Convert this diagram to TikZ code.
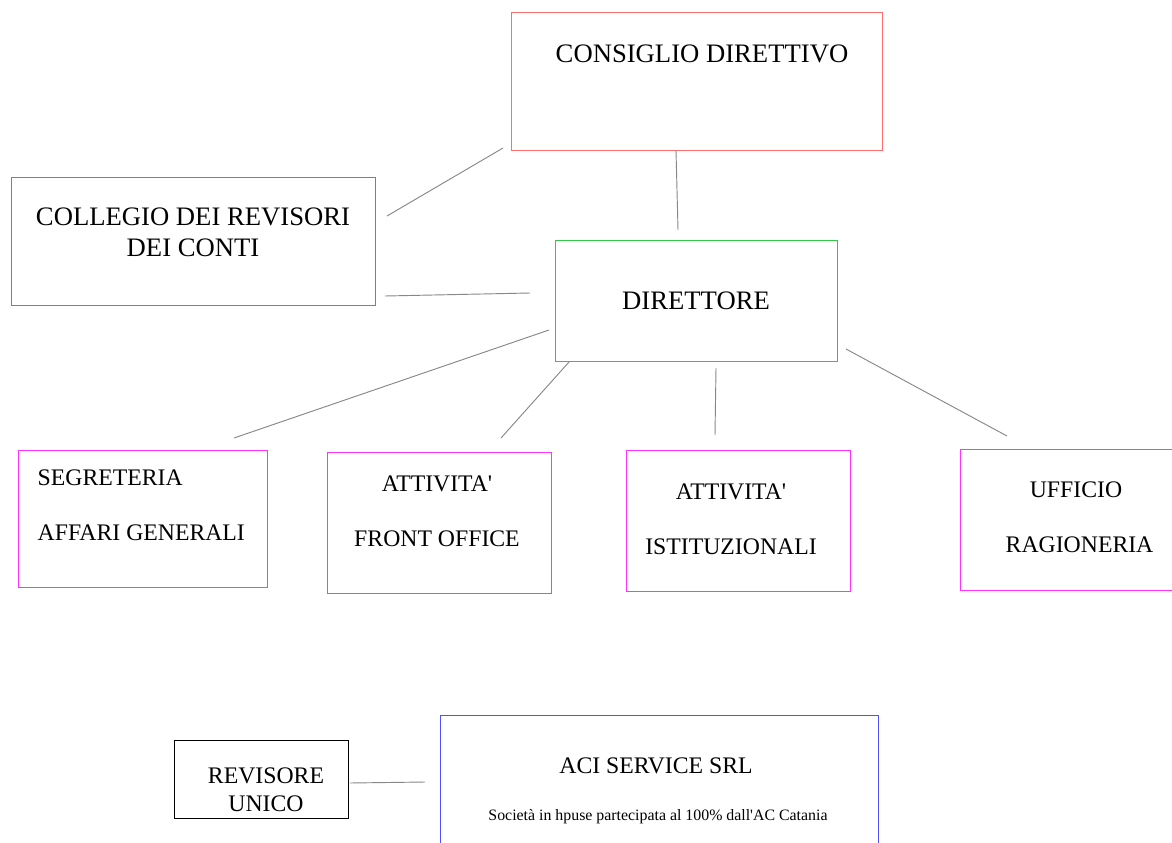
\documentclass[tikz,border=0pt]{standalone}
\usepackage{fontspec}
\setmainfont{Liberation Serif}
\usetikzlibrary{positioning,calc}

\definecolor{consred}{RGB}{255,110,110}
\definecolor{dirgreen}{RGB}{50,200,70}
\definecolor{ufmag}{RGB}{255,50,255}
\definecolor{aciblue}{RGB}{80,80,255}
\definecolor{linkgray}{RGB}{135,135,135}

\begin{document}
\begin{tikzpicture}[x=0.75pt,y=-0.75pt,
    box/.style={draw,rectangle,inner sep=0pt,anchor=north west,line width=0.75pt},
    big/.style={font=\fontsize{20}{23.25}\selectfont},
    mid/.style={font=\fontsize{17.8}{41}\selectfont},
    link/.style={draw=linkgray,line width=0.7pt}]
    \useasboundingbox (0,0) rectangle (1172,843);
    \clip (0,0) rectangle (1172,843);

    % boxes
    \node[box,draw=consred,minimum width=278.25pt,minimum height=103.5pt] (consiglio) at (511,12) {};
    \node[box,draw=gray,minimum width=273pt,minimum height=96pt] (collegio) at (11,177) {};
    \node[box,draw=dirgreen,minimum width=211.5pt,minimum height=90.75pt] (direttore) at (555,240) {};
    \node[box,draw=ufmag,minimum width=186.75pt,minimum height=102.75pt] (segreteria) at (18,450) {};
    \node[box,draw=ufmag,minimum width=168pt,minimum height=105.75pt] (front) at (327,452) {};
    \node[box,draw=ufmag,minimum width=168pt,minimum height=105.75pt] (istituz) at (626,450) {};
    \node[box,draw=ufmag,minimum width=165pt,minimum height=105.75pt] (ragioneria) at (960,449) {};
    \node[box,draw=black,minimum width=130.5pt,minimum height=58.5pt] (revisore) at (174,740) {};
    \node[box,draw=aciblue,minimum width=328.5pt,minimum height=101.25pt] (aci) at (440,715) {};

    % texts
    \node[big] (consiglio-t) at (702,54) {CONSIGLIO DIRETTIVO};
    \node[big,align=center] (collegio-t) at (193,232) {COLLEGIO DEI REVISORI\\DEI CONTI};
    \node[big] (direttore-t) at (696,301) {DIRETTORE};
    \node[mid,align=left,anchor=west] (segreteria-t) at (33,505) {SEGRETERIA\\AFFARI GENERALI};
    \node[mid,align=center] (front-t) at (437,511) {ATTIVITA\textquotesingle\\FRONT OFFICE};
    \node[mid,align=center] (istituz-t) at (731,519) {ATTIVITA\textquotesingle\\ISTITUZIONALI};
    \node[mid,align=center] (ragioneria-t) at (1076,517) {UFFICIO\\\hspace*{0.3em}RAGIONERIA};
    \node[align=center,font=\fontsize{17.8}{21}\selectfont] (revisore-t) at (266,790) {REVISORE\\UNICO};
    \node[font=\fontsize{17.8}{20}\selectfont] (aci-t) at (656,766) {ACI SERVICE SRL};
    \node[font=\fontsize{11.9}{14}\selectfont] (aci-s) at (658,817) {Società in hpuse partecipata al 100\% dall\textquotesingle AC Catania};

    % link ends
    \coordinate (c1) at (503,148);  \coordinate (c2) at (387,216);
    \coordinate (c3) at (676,150);  \coordinate (c4) at (678,230);
    \coordinate (c5) at (385,296);  \coordinate (c6) at (530,293);
    \coordinate (d1) at (549,330);  \coordinate (d2) at (234,438);
    \coordinate (d3) at (569,362);  \coordinate (d4) at (501,438);
    \coordinate (d5) at (716,368);  \coordinate (d6) at (715,435);
    \coordinate (d7) at (846,349);  \coordinate (d8) at (1007,436);
    \coordinate (r1) at (350,783);  \coordinate (r2) at (425,782);

    \draw[link] (c1) -- (c2);
    \draw[link] (c3) -- (c4);
    \draw[link] (c5) -- (c6);
    \draw[link] (d1) -- (d2);
    \draw[link] (d3) -- (d4);
    \draw[link] (d5) -- (d6);
    \draw[link] (d7) -- (d8);
    \draw[link] (r1) -- (r2);
\end{tikzpicture}
\end{document}
